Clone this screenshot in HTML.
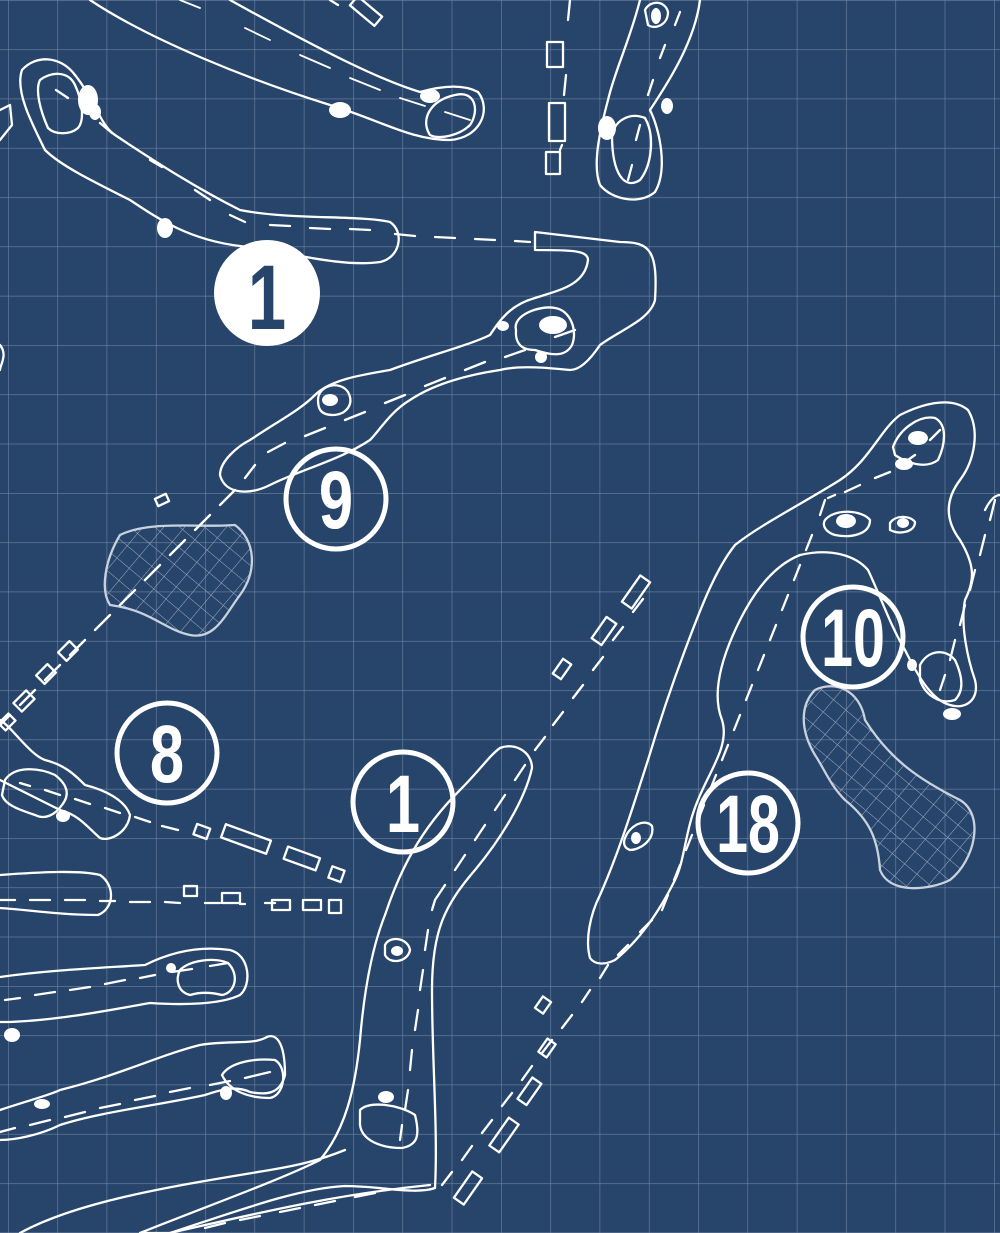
<!DOCTYPE html>
<html><head><meta charset="utf-8"><style>
html,body{margin:0;padding:0;background:#27446a;}
svg{display:block}
text{font-family:"Liberation Sans Narrow","Liberation Sans",sans-serif;font-weight:bold}
</style></head><body>
<svg width="1000" height="1233" viewBox="0 0 1000 1233" xmlns="http://www.w3.org/2000/svg">
<defs>
<pattern id="g" x="8" y="0" width="49.3" height="49.3" patternUnits="userSpaceOnUse">
<path d="M0 0V49.3M0 0H49.3" stroke="#6f84a2" stroke-width="1.2" fill="none"/>
</pattern>
<pattern id="h" width="16" height="16" patternUnits="userSpaceOnUse" patternTransform="rotate(40)">
<path d="M0 0H16M0 0V16" stroke="#9fb0c6" stroke-width="1" fill="none"/>
</pattern>
</defs>
<rect width="1000" height="1233" fill="#27446a"/>
<rect width="1000" height="1233" fill="url(#g)"/>

<g fill="none" stroke="#fff" stroke-width="2.3" stroke-linejoin="round" stroke-linecap="round">
<!-- hatched hazards -->
<path d="M120 535 C150 520 200 528 235 525 C255 540 258 570 240 595 C225 615 215 640 190 635 C165 630 150 610 110 605 C100 590 105 560 120 535Z" fill="url(#h)" stroke="#c8d2de"/>
<path d="M815 690 C835 680 860 690 865 720 C890 760 920 780 960 800 C985 815 975 860 950 880 C930 890 890 895 880 870 C878 840 870 820 845 800 C830 785 825 770 815 755 C800 730 800 705 815 690Z" fill="url(#h)" stroke="#c8d2de"/>

<!-- top long fairway -->
<path d="M90 0 C150 40 250 80 330 105 C380 120 410 140 450 140 C480 138 492 110 478 92 C465 85 445 85 420 92 C380 80 320 50 230 0"/>
<path d="M430 135 C420 120 430 100 455 95 C475 90 480 110 470 125 C460 135 440 140 430 135Z"/>
<path d="M180 0 L200 8 M245 28 L270 40 M300 55 L330 68 M350 78 L380 90 M400 98 L425 106 M445 112 L470 120" stroke-width="1.8"/>
<rect x="350" y="5" width="32" height="12" transform="rotate(40 366 11)"/>
<path d="M330 0 L338 5" />

<!-- top-left green + fairway to hole 1 -->
<path d="M22 70 C35 55 60 55 75 75 C95 100 100 125 115 135 C160 165 200 190 240 210 C290 220 360 215 390 222 C405 232 400 258 380 262 C340 268 280 250 240 246 C190 240 160 220 130 200 C90 180 60 165 45 150 C30 120 15 90 22 70Z"/>
<path d="M40 80 C50 72 68 70 75 85 C82 100 85 120 78 128 C70 135 55 135 48 128 C40 110 35 90 40 80Z"/>
<path d="M56 90 L68 98 M100 123 L112 133 M150 160 L162 167 M195 190 L210 200 M230 215 L245 222 M270 225 L290 226 M310 228 L330 229 M350 229 L370 230 M395 234 L415 236 M435 237 L455 238 M475 239 L495 240 M515 241 L530 242"/>
<path d="M0 110 L10 105 L12 125 L0 140"/>

<!-- top center hole -->
<path d="M640 0 C630 40 615 70 608 100 C600 130 592 165 600 185 C612 200 640 205 655 192 C668 170 660 130 650 110 C670 80 695 40 700 0"/>
<path d="M612 135 C615 120 630 112 645 118 C655 135 652 165 640 180 C625 190 612 175 612 135Z"/>
<path d="M645 10 C650 0 665 0 668 12 C668 25 655 30 648 25Z"/>
<path d="M628 180 L632 165 M636 140 L640 125 M648 95 L653 80 M660 58 L665 45 M675 25 L680 12"/>
<rect x="547" y="42" width="16" height="25"/>
<rect x="549" y="103" width="16" height="38"/>
<rect x="546" y="152" width="14" height="22"/>
<path d="M570 0 L568 20 M566 75 L564 95 M562 145 L560 150"/>

<!-- hole 9 -->
<path d="M535 232 L620 242 C650 242 658 250 655 300 C650 320 620 330 600 345 C590 360 580 370 570 370 C550 368 520 365 500 370 C480 373 440 380 410 400 C390 412 380 430 370 440 C340 460 300 470 270 485 C250 495 225 495 220 475 C220 460 240 445 250 440 C280 420 300 410 315 395 C330 380 360 375 390 370 C430 355 470 345 490 335 C500 320 510 305 535 298 C560 290 585 285 588 260 C588 250 570 250 535 250Z"/>
<path d="M516 330 C512 315 540 305 555 308 C570 310 578 330 572 345 C565 358 550 355 535 350 C520 350 515 342 516 330Z"/>
<path d="M318 400 C318 385 340 380 348 392 C355 405 345 415 333 415 C320 415 318 408 318 400Z"/>
<path d="M575 330 L555 337 M525 350 L505 357 M485 362 L465 370 M445 378 L425 386 M405 395 L385 403 M365 412 L345 420 M325 428 L305 436 M285 443 L268 452 M255 465 L245 478 M235 490 L220 505 M210 515 L195 530 M185 540 L170 555 M160 565 L145 580 M135 590 L120 605 M110 615 L95 630 M85 640 L70 655 M60 665 L45 680 M35 690 L20 705 M10 715 L0 725"/>
<rect x="156" y="496" width="12" height="8" transform="rotate(-25 162 500)"/>
<rect x="60" y="645" width="16" height="12" transform="rotate(-45 68 651)"/>
<rect x="38" y="668" width="16" height="12" transform="rotate(-45 46 674)"/>
<rect x="15" y="695" width="18" height="12" transform="rotate(-45 24 701)"/>
<rect x="0" y="717" width="14" height="10" transform="rotate(-45 7 722)"/>

<!-- hole 8 -->
<path d="M0 720 C10 725 30 755 45 760 C65 765 75 775 85 785 C105 790 125 800 130 815 C128 832 110 842 100 838 C90 830 80 815 60 810 C40 800 20 790 0 780"/>
<path d="M5 780 C15 765 40 768 55 775 C68 785 70 795 62 805 C55 815 45 820 35 815 C20 810 5 805 2 795Z"/>
<path d="M20 783 L30 786 M45 790 L60 795 M75 799 L90 804 M105 808 L120 813 M135 817 L150 822 M162 826 L178 830 M195 835"/>
<rect x="195" y="826" width="14" height="11" transform="rotate(20 202 831)"/>
<rect x="222" y="832" width="48" height="14" transform="rotate(20 246 839)"/>
<rect x="285" y="852" width="34" height="13" transform="rotate(20 302 858)"/>
<rect x="330" y="868" width="13" height="12" transform="rotate(20 336 874)"/>

<!-- fairway row 905 -->
<path d="M0 875 C40 872 80 870 100 875 C115 885 115 908 98 915 C60 915 30 910 0 908"/>
<path d="M0 900 L15 900 M30 900 L50 900 M65 900 L85 900 M100 901 L115 901 M130 902 L150 902 M165 902 L180 903 M205 903 L220 903 M240 904 L245 904 M265 903 L275 903"/>
<rect x="184" y="886" width="13" height="10"/>
<rect x="222" y="893" width="18" height="10"/>
<rect x="272" y="900" width="18" height="10"/>
<rect x="303" y="900" width="18" height="10"/>
<rect x="329" y="900" width="12" height="13"/>

<!-- fairway row 975 -->
<path d="M0 977 C50 970 100 968 145 965 C165 955 195 945 230 950 C250 955 252 985 240 995 C220 1005 180 1005 150 1003 C110 1010 60 1020 10 1022 L0 1022"/>
<path d="M180 970 C190 960 215 957 228 963 C240 975 235 993 222 995 C210 992 200 992 190 995 C178 992 175 980 180 970Z"/>
<path d="M5 1000 L20 998 M35 995 L55 992 M70 990 L90 987 M105 984 L125 980 M140 978 L155 975 M172 972 L192 969 M210 966 L228 963"/>

<!-- fairway row 1070 -->
<path d="M0 1110 C30 1100 50 1095 60 1090 C120 1075 160 1055 200 1045 C230 1040 250 1045 265 1038 C275 1032 285 1040 285 1075 C280 1095 265 1095 250 1092 C235 1085 220 1090 205 1095 C160 1105 100 1112 60 1125 C40 1135 15 1140 0 1140"/>
<path d="M222 1075 C230 1062 255 1058 275 1060 C288 1068 285 1095 270 1098 C250 1098 230 1092 222 1075Z"/>
<path d="M0 1132 L15 1128 M30 1125 L50 1120 M65 1117 L85 1112 M100 1108 L120 1104 M135 1100 L155 1096 M170 1092 L190 1088 M210 1085 L230 1081 M245 1078 L270 1072"/>
<path d="M0 1180 M20 1233 C80 1200 180 1185 270 1170 C300 1165 320 1160 345 1150"/>
<path d="M170 1233 C250 1215 330 1195 430 1185"/>
<path d="M205 1228 L225 1223 M240 1220 L260 1216 M280 1212 L300 1208 M315 1205 L335 1201 M355 1197 L375 1193"/>

<!-- hole 1 lower -->
<path d="M500 748 C515 742 532 752 532 768 C525 800 500 840 475 870 C445 905 432 930 432 990 C432 1060 438 1130 435 1188 C415 1195 380 1186 345 1186 C300 1188 240 1210 170 1233 L140 1233 C210 1205 280 1180 320 1160 C345 1130 355 1090 360 1040 C365 980 375 940 385 915 C400 870 420 830 460 790 C480 770 490 755 500 748Z"/>
<path d="M360 1110 C370 1100 400 1105 415 1115 C420 1135 418 1145 402 1148 C380 1148 362 1140 360 1125Z"/>
<path d="M385 945 C390 935 408 938 410 950 C408 962 390 965 385 955Z"/>
<path d="M525 765 L515 780 M505 795 L495 810 M485 825 L475 840 M465 855 L455 870 M445 885 L435 900 L432 910 M428 930 L425 950 M423 970 L420 990 M418 1010 L415 1030 M412 1050 L410 1070 M408 1090 L405 1110 M402 1125 L400 1140"/>
<path d="M535 750 L545 737 M553 725 L563 712 M573 698 L583 685 M593 670 L603 657 M613 640 L623 627 M633 612 L643 599" />
<rect x="557" y="660" width="10" height="18" transform="rotate(35 562 669)"/>
<rect x="598" y="618" width="12" height="26" transform="rotate(35 604 631)"/>
<rect x="630" y="576" width="12" height="32" transform="rotate(35 636 592)"/>

<!-- hole 10/18 -->
<path d="M590 958 C585 940 590 915 600 895 C620 850 635 800 648 760 C660 720 670 690 685 650 C700 610 715 570 735 545 C760 525 800 505 840 480 C870 460 880 430 900 415 C920 405 950 395 968 410 C980 430 975 460 960 480 C945 500 945 520 960 540 C975 565 975 580 965 600 C960 625 968 660 975 680 C980 700 965 710 950 705 C930 700 915 670 905 650 C890 625 880 595 868 570 C855 555 830 548 800 555 C775 565 755 590 740 620 C725 650 710 690 722 720 C730 745 710 770 698 800 C685 830 685 860 675 880 C660 910 640 940 615 960 C605 965 595 965 590 958Z"/>
<path d="M893 447 C900 428 920 415 935 418 C948 425 945 445 938 460 C925 470 905 462 895 455Z"/>
<path d="M825 520 C835 508 862 510 870 520 C870 535 850 538 835 535 C825 532 822 525 825 520Z"/>
<path d="M890 523 C895 515 910 515 915 522 C915 532 900 535 890 530Z"/>
<path d="M920 665 C928 650 945 648 955 660 C962 675 965 690 955 700 C940 705 925 695 920 680Z"/>
<path d="M625 838 C630 825 645 818 652 826 C655 840 640 850 630 850 C624 848 623 843 625 838Z"/>
<path d="M940 430 L930 440 M915 455 L905 462 M890 472 L875 478 M860 485 L845 492 M835 495 L828 498 M825 500 L820 515 M812 535 L806 550 M800 565 L794 580 M788 595 L782 610 M776 625 L770 640 M764 655 L758 670 M752 685 L746 700 M740 715 L734 730 M728 745 L722 760 M716 775 L710 790 M704 805 L698 820 M692 835 L686 850 M680 865 L674 880 M668 895 L662 910 M652 920 L640 932 M628 945 L618 955 M608 965 L600 978 M590 990 L582 1002 M572 1015 L562 1028 M552 1040 L542 1053 M532 1066 L522 1080 M512 1093 L502 1106 M492 1120 L482 1133 M472 1146 L462 1160 M452 1172 L442 1185"/>
<path d="M995 500 L990 520 M985 535 L980 555 M975 570 L970 590 M965 605 L960 625 M955 640 L950 660 M945 675 L940 690 M935 705"/>
<path d="M985 510 C990 500 995 495 1000 495"/>
<rect x="538" y="998" width="10" height="14" transform="rotate(35 543 1005)"/>
<rect x="542" y="1040" width="10" height="16" transform="rotate(35 547 1048)"/>
<rect x="524" y="1078" width="11" height="26" transform="rotate(35 529 1091)"/>
<rect x="498" y="1118" width="12" height="34" transform="rotate(35 504 1135)"/>
<rect x="462" y="1172" width="12" height="32" transform="rotate(35 468 1188)"/>
<path d="M0 345 C8 355 0 365 0 370"/>
</g>

<!-- white blobs (bunkers) -->
<g fill="#fff">
<ellipse cx="88" cy="100" rx="10" ry="15"/><ellipse cx="95" cy="112" rx="6" ry="8"/>
<ellipse cx="165" cy="228" rx="8" ry="10"/>
<ellipse cx="340" cy="110" rx="11" ry="8"/><ellipse cx="430" cy="96" rx="10" ry="7"/>
<ellipse cx="607" cy="128" rx="9" ry="12"/><ellipse cx="667" cy="106" rx="6" ry="8"/>
<ellipse cx="656" cy="16" rx="5" ry="8"/>
<ellipse cx="503" cy="326" rx="6" ry="5"/><ellipse cx="541" cy="357" rx="6" ry="6"/>
<ellipse cx="330" cy="400" rx="8" ry="6"/><ellipse cx="553" cy="325" rx="14" ry="9"/>
<ellipse cx="904" cy="464" rx="9" ry="6"/><ellipse cx="918" cy="438" rx="10" ry="7"/>
<ellipse cx="846" cy="521" rx="10" ry="7"/><ellipse cx="903" cy="523" rx="6" ry="5"/>
<ellipse cx="912" cy="665" rx="5" ry="6"/><ellipse cx="952" cy="714" rx="9" ry="6"/>
<ellipse cx="636" cy="838" rx="5" ry="6"/>
<ellipse cx="63" cy="816" rx="7" ry="6"/>
<ellipse cx="171" cy="968" rx="5" ry="5"/><ellipse cx="12" cy="1035" rx="8" ry="7"/>
<ellipse cx="42" cy="1104" rx="8" ry="5"/><ellipse cx="226" cy="1093" rx="6" ry="7"/>
<ellipse cx="386" cy="1097" rx="8" ry="6"/><ellipse cx="397" cy="951" rx="6" ry="5"/>
</g>

<!-- hole number circles -->
<circle cx="267" cy="293" r="53" fill="#fff"/>
<text x="267" y="329" font-size="92" fill="#27446a" text-anchor="middle" transform="translate(267 0) scale(0.75 1) translate(-267 0)">1</text>
<g fill="none" stroke="#fff" stroke-width="5">
<circle cx="336" cy="499" r="50"/>
<circle cx="167" cy="753" r="50"/>
<circle cx="403" cy="802" r="50"/>
<circle cx="853" cy="637" r="50"/>
<circle cx="748" cy="823" r="50"/>
</g>
<g fill="#fff" text-anchor="middle" font-size="82">
<text x="336" y="528" transform="translate(336 0) scale(0.75 1) translate(-336 0)">9</text>
<text x="167" y="782" transform="translate(167 0) scale(0.75 1) translate(-167 0)">8</text>
<text x="403" y="832" transform="translate(403 0) scale(0.75 1) translate(-403 0)">1</text>
<text x="853" y="666" transform="translate(853 0) scale(0.7 1) translate(-853 0)">10</text>
<text x="748" y="852" transform="translate(748 0) scale(0.7 1) translate(-748 0)">18</text>
</g>
</svg>
</body></html>
